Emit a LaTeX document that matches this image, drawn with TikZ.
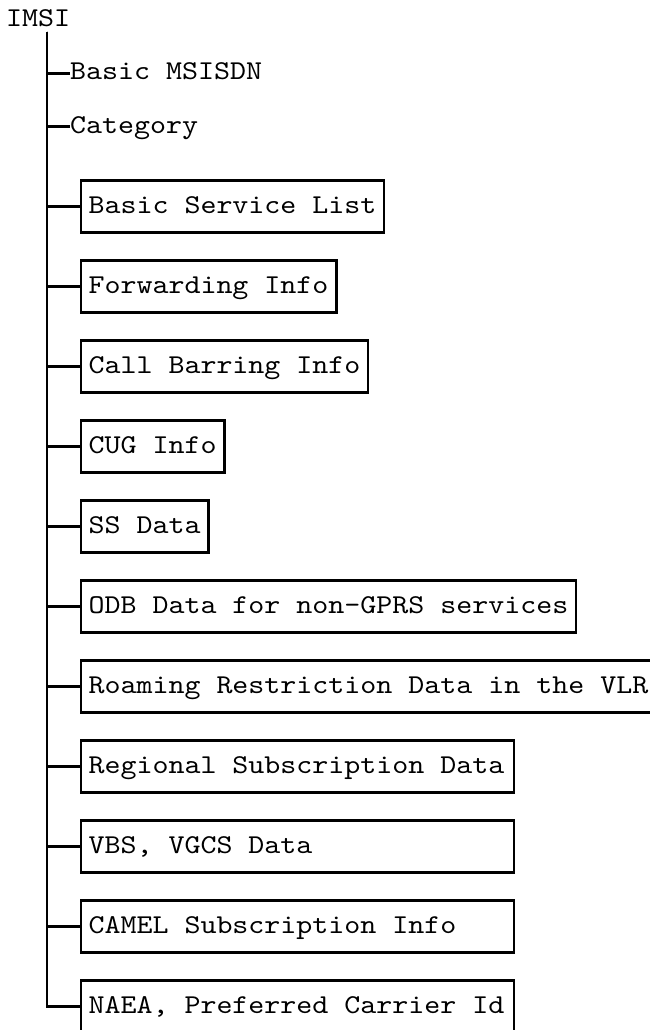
\documentclass[tikz,border=0pt]{standalone}
\usepackage{fontspec}
\setmonofont{lmmono10-regular.otf}[FakeStretch=1.12]
\begin{document}
\begin{tikzpicture}[x=1pt,y=1pt,
  every node/.style={font=\ttfamily\fontsize{27.2pt}{30pt}\selectfont},
  lbl/.style={inner sep=0pt, anchor=west, text height=13pt, text depth=0pt},
  itembox/.style={draw, line width=2.1pt, anchor=west, inner xsep=8pt, inner ysep=0pt,
    minimum height=52pt, text height=13pt, text depth=0pt},
  branch/.style={line width=2.1pt}]
\clip (0,0) rectangle (650,-1030);
\fill[white] (0,0) rectangle (650,-1030);

\node[lbl] (imsi) at (6,-20.5) {IMSI};
\coordinate (stem) at (47,-32);

\node[lbl] (msisdn) at (70,-73.5) {Basic MSISDN};
\node[lbl] (cat) at (70,-126.5) {Category};

\node[itembox] (b1) at (79.5,-206.5) {Basic Service List};
\node[itembox] (b2) at (79.5,-286.5) {Forwarding Info};
\node[itembox] (b3) at (79.5,-366.5) {Call Barring Info};
\node[itembox] (b4) at (79.5,-446.5) {CUG Info};
\node[itembox] (b5) at (79.5,-526.5) {SS Data};
\node[itembox] (b6) at (79.5,-606.5) {ODB Data for non-GPRS services};
\node[itembox] (b7) at (79.5,-686.5) {Roaming Restriction Data in the VLR};
\node[itembox] (b8) at (79.5,-766.5) {\makebox[417pt][l]{Regional Subscription Data}};
\node[itembox] (b9) at (79.5,-846.5) {\makebox[417pt][l]{VBS, VGCS Data}};
\node[itembox] (b10) at (79.5,-926.5) {\makebox[417pt][l]{CAMEL Subscription Info}};
\node[itembox] (b11) at (79.5,-1006.5) {\makebox[417pt][l]{NAEA, Preferred Carrier Id}};

\foreach \n in {msisdn,cat,b1,b2,b3,b4,b5,b6,b7,b8,b9,b10,b11}
  \draw[branch] (stem) |- (\n.west);
\end{tikzpicture}
\end{document}
